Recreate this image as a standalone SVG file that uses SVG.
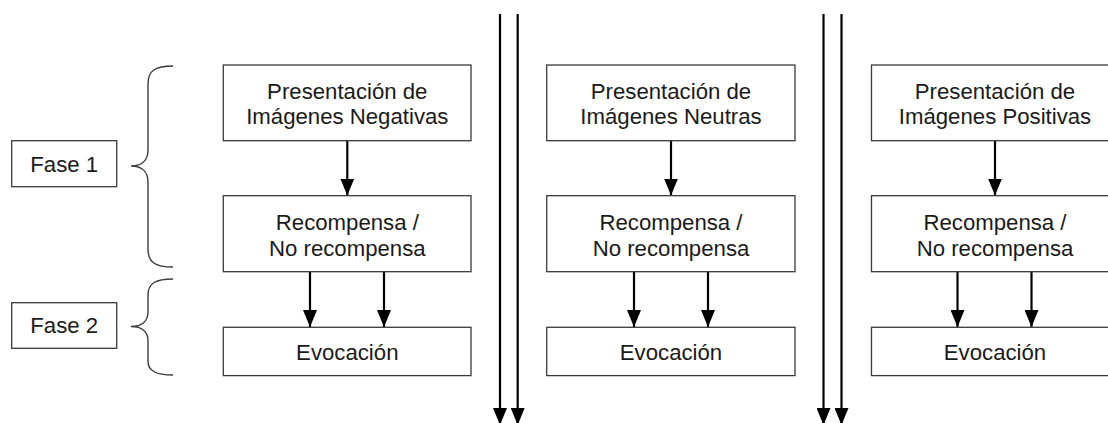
<svg xmlns="http://www.w3.org/2000/svg" width="1108" height="423" viewBox="0 0 1108 423">
<defs>
<style>
.box{fill:#fff;stroke:#3a3a3a;stroke-width:1.3}
.t{font-family:"Liberation Sans",Arial,sans-serif;font-size:22.2px;fill:#1a1a1a;text-anchor:middle}
.c{stroke:#000;stroke-width:2.2;fill:none}
.br{stroke:#3a3a3a;stroke-width:1.4;fill:none}
</style>
<marker id="ah" viewBox="0 0 17 14" refX="17" refY="7" markerWidth="17" markerHeight="14" markerUnits="userSpaceOnUse" orient="auto">
<path d="M0,0 L17,7 L0,14 Z" fill="#000"/>
</marker>
</defs>
<rect width="1108" height="423" fill="#fff"/>

<g id="connectors">
<line class="c" x1="347.3" y1="141" x2="347.3" y2="195.5" marker-end="url(#ah)"/>
<line class="c" x1="310" y1="272" x2="310" y2="327" marker-end="url(#ah)"/>
<line class="c" x1="384" y1="272" x2="384" y2="327" marker-end="url(#ah)"/>
<line class="c" x1="671" y1="141" x2="671" y2="195.5" marker-end="url(#ah)"/>
<line class="c" x1="634" y1="272" x2="634" y2="327" marker-end="url(#ah)"/>
<line class="c" x1="708" y1="272" x2="708" y2="327" marker-end="url(#ah)"/>
<line class="c" x1="995" y1="141" x2="995" y2="195.5" marker-end="url(#ah)"/>
<line class="c" x1="957.5" y1="272" x2="957.5" y2="327" marker-end="url(#ah)"/>
<line class="c" x1="1031.5" y1="272" x2="1031.5" y2="327" marker-end="url(#ah)"/>
<line class="c" x1="500" y1="14" x2="500" y2="425" marker-end="url(#ah)"/>
<line class="c" x1="517.7" y1="14" x2="517.7" y2="425" marker-end="url(#ah)"/>
<line class="c" x1="823.5" y1="14" x2="823.5" y2="425" marker-end="url(#ah)"/>
<line class="c" x1="841.5" y1="14" x2="841.5" y2="425" marker-end="url(#ah)"/>
</g>

<g id="braces">
<path class="br" d="M173,66 C156,66 148,70 148,84 L148,150 C148,160 142,166 131,166 C142,166 148,172 148,182 L148,249 C148,263 156,267 173,267"/>
<path class="br" d="M173,279 C156,279 148,283 148,295 L148,312 C148,321 142,326.5 131,326.5 C142,326.5 148,332 148,341 L148,361 C148,371 156,375 173,375"/>
</g>

<g id="fase1">
<rect class="box" x="11.7" y="140.7" width="105" height="46"/>
<text class="t" x="64.2" y="171.7">Fase 1</text>
</g>
<g id="fase2">
<rect class="box" x="11.7" y="302.7" width="105" height="45.6"/>
<text class="t" x="64.2" y="332.9">Fase 2</text>
</g>

<g id="neg-presentacion">
<rect class="box" x="223.3" y="65" width="247.7" height="75.7"/>
<text class="t" x="347.3" y="98.5">Presentación de</text>
<text class="t" x="347.3" y="124.2">Imágenes Negativas</text>
</g>
<g id="neg-recompensa">
<rect class="box" x="223.3" y="195.7" width="247.7" height="76"/>
<text class="t" x="347.3" y="230.2">Recompensa /</text>
<text class="t" x="347.3" y="255.7">No recompensa</text>
</g>
<g id="neg-evocacion">
<rect class="box" x="223.3" y="327.3" width="247.7" height="48.3"/>
<text class="t" x="347.3" y="360.2">Evocación</text>
</g>

<g id="neu-presentacion">
<rect class="box" x="546.7" y="65" width="248.3" height="75.7"/>
<text class="t" x="671" y="98.5">Presentación de</text>
<text class="t" x="671" y="124.2">Imágenes Neutras</text>
</g>
<g id="neu-recompensa">
<rect class="box" x="546.7" y="195.7" width="248.3" height="76"/>
<text class="t" x="671" y="230.2">Recompensa /</text>
<text class="t" x="671" y="255.7">No recompensa</text>
</g>
<g id="neu-evocacion">
<rect class="box" x="546.7" y="327.3" width="248.3" height="48.3"/>
<text class="t" x="671" y="360.2">Evocación</text>
</g>

<g id="pos-presentacion">
<rect class="box" x="871.5" y="65" width="248" height="75.7"/>
<text class="t" x="995" y="98.5">Presentación de</text>
<text class="t" x="995" y="124.2">Imágenes Positivas</text>
</g>
<g id="pos-recompensa">
<rect class="box" x="871.5" y="195.7" width="248" height="76"/>
<text class="t" x="995" y="230.2">Recompensa /</text>
<text class="t" x="995" y="255.7">No recompensa</text>
</g>
<g id="pos-evocacion">
<rect class="box" x="871.5" y="327.3" width="248" height="48.3"/>
<text class="t" x="995" y="360.2">Evocación</text>
</g>
</svg>
